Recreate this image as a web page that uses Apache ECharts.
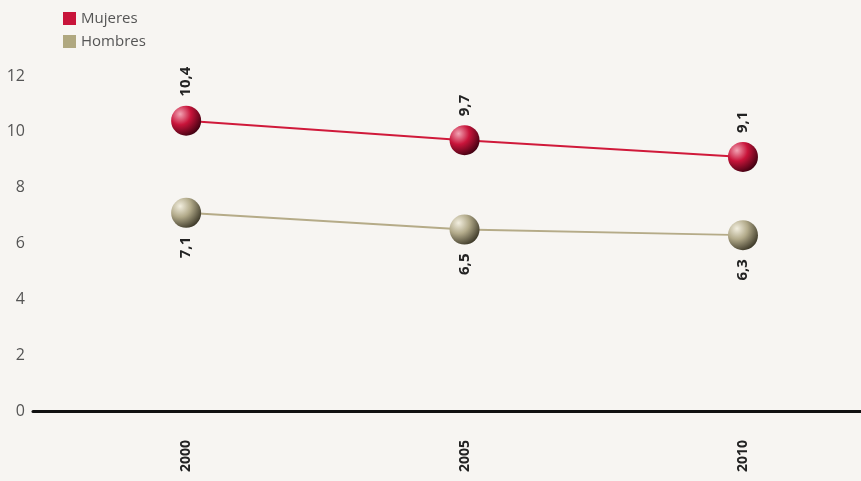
<!DOCTYPE html>
<html>
<head>
<meta charset="utf-8">
<script src="https://cdn.jsdelivr.net/npm/echarts@6/dist/echarts.min.js"></script>
<style>
  html, body { margin: 0; padding: 0; background: #f7f5f2; }
  #chart { width: 861px; height: 481px; }
</style>
</head>
<body>
<div id="chart"></div>
<script>
const years = [2000, 2005, 2010]
const mujeres = [10.4, 9.7, 9.1]
const hombres = [7.1, 6.5, 6.3]
const yTicks = [0, 2, 4, 6, 8, 10, 12]

function ball (light, mid, dark) {
  return {
    type: 'radial', x: 0.3, y: 0.28, r: 0.8,
    colorStops: [
      { offset: 0, color: light },
      { offset: 0.45, color: mid },
      { offset: 1, color: dark }
    ]
  }
}

function pairs (vals) {
  return years.map((y, i) => [y, vals[i]])
}

const comma = p => String(p.value[1]).replace('.', ',')

const chart = echarts.init(document.getElementById('chart'))
chart.setOption({
  backgroundColor: '#f7f5f2',
  textStyle: { fontFamily: 'Open Sans' },
  legend: {
    orient: 'vertical',
    left: 58,
    top: 6,
    itemWidth: 13,
    itemHeight: 13,
    itemGap: 8,
    icon: 'rect',
    textStyle: { color: '#555', fontSize: 15 },
    data: [
      { name: 'Mujeres', itemStyle: { color: '#c8143a' } },
      { name: 'Hombres', itemStyle: { color: '#b0a880' } }
    ]
  },
  grid: { left: 33, right: 0, top: 76, bottom: 70 },
  xAxis: {
    type: 'value',
    min: 1997.25,
    max: 2012.12,
    splitLine: { show: false },
    axisTick: { show: false },
    axisLine: { show: true, lineStyle: { color: '#111', width: 3 } },
    axisLabel: {
      customValues: years,
      rotate: 90,
      margin: 29,
      fontWeight: 'bold',
      fontSize: 14,
      color: '#222',
      formatter: v => String(v)
    }
  },
  yAxis: {
    type: 'value',
    min: yTicks[0],
    max: yTicks[yTicks.length - 1],
    interval: 2,
    splitLine: { show: false },
    axisTick: { show: false },
    axisLine: { show: false },
    axisLabel: { color: '#555', fontSize: 16, margin: 8 }
  },
  series: [
    {
      name: 'Mujeres',
      type: 'line',
      data: pairs(mujeres),
      symbol: 'circle',
      symbolSize: 30,
      lineStyle: { color: '#d0193a', width: 2 },
      itemStyle: { color: ball('#f2a4b4', '#c8143a', '#3c0010') },
      label: {
        show: true,
        position: 'top',
        distance: 9,
        rotate: 90,
        align: 'left',
        verticalAlign: 'middle',
        fontWeight: 'bold',
        fontSize: 15,
        color: '#222',
        formatter: comma
      }
    },
    {
      name: 'Hombres',
      type: 'line',
      data: pairs(hombres),
      symbol: 'circle',
      symbolSize: 30,
      lineStyle: { color: '#b5ab88', width: 2 },
      itemStyle: { color: ball('#f2eedf', '#b2aa8a', '#3a3626') },
      label: {
        show: true,
        position: 'bottom',
        distance: 9,
        rotate: 90,
        align: 'right',
        verticalAlign: 'middle',
        fontWeight: 'bold',
        fontSize: 15,
        color: '#222',
        formatter: comma
      }
    }
  ]
})
</script>
</body>
</html>
